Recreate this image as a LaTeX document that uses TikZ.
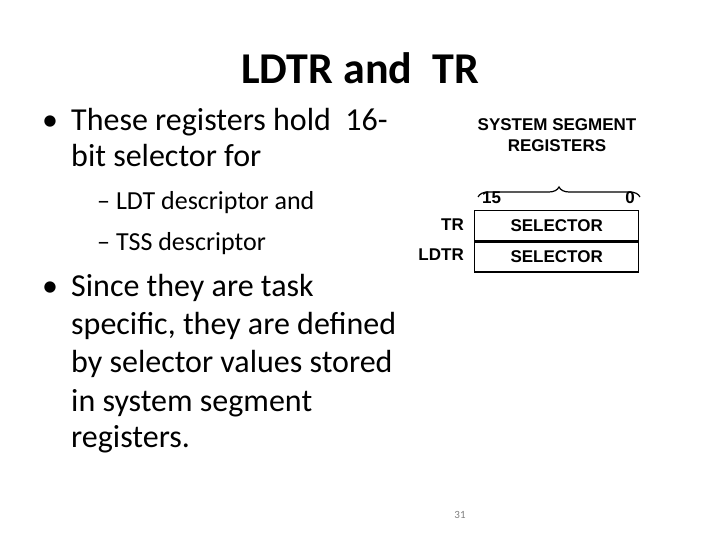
\documentclass[tikz,border=0pt]{standalone}
\usepackage{fontspec}
\setmainfont{Carlito}
\newfontfamily\figfont{Liberation Sans}
\usetikzlibrary{decorations.pathreplacing}
\tikzset{
  bodytext/.style={anchor=base west, inner sep=0pt, font=\fontsize{32}{36}\selectfont},
  subtext/.style={anchor=base west, inner sep=0pt, font=\fontsize{26}{30}\selectfont},
  figtext/.style={inner sep=0pt, font=\figfont\bfseries\fontsize{17}{19}\selectfont},
  regbox/.style={draw, line width=1.3pt, minimum width=164pt, minimum height=30pt, inner sep=0pt}
}
\begin{document}
\begin{tikzpicture}[x=1pt,y=-1pt]
    \useasboundingbox (0,0) rectangle (720,540);

    \node[inner sep=0pt, font=\bfseries\fontsize{44}{48}\selectfont] (title) at (360, 68) {LDTR and\ \ TR};

    % first bullet
    \node[bodytext] (b1) at (42, 131) {\textbullet};
    \node[bodytext] (l1) at (71, 131) {These registers hold\ \ 16-};
    \node[bodytext] (l2) at (71, 167) {bit selector for};
    \node[subtext] (s1) at (97, 210) {-- LDT descriptor and};
    \node[subtext] (s2) at (97, 250) {-- TSS descriptor};

    % second bullet
    \node[bodytext] (b2) at (42, 296) {\textbullet};
    \node[bodytext] (m1) at (71, 296) {Since they are task};
    \node[bodytext] (m2) at (71, 334) {specific, they are defined};
    \node[bodytext] (m3) at (71, 372) {by selector values stored};
    \node[bodytext] (m4) at (71, 411) {in system segment};
    \node[bodytext] (m5) at (71, 447) {registers.};

    % register figure
    \node[figtext, align=center] (head) at (557, 135) {SYSTEM SEGMENT\\[2pt]REGISTERS};
    \node[regbox, anchor=north west, figtext] (tr) at (474, 210) {SELECTOR};
    \node[regbox, anchor=north, figtext] (ldtr) at (tr.south) {SELECTOR};
    \node[figtext, anchor=east] (trl) at (464, 225) {TR};
    \node[figtext, anchor=east] (ldtrl) at (464, 255) {LDTR};
    \node[figtext, anchor=west] (hi) at (482, 198) {15};
    \node[figtext, anchor=east] (lo) at (635, 198) {0};
    \draw[line width=1.2pt, decorate, decoration={brace, amplitude=10pt}] (478, 197) -- (640, 197);

    \node[inner sep=0pt, text=gray, font=\fontsize{11}{12}\selectfont] (page) at (460, 515) {31};
\end{tikzpicture}
\end{document}
